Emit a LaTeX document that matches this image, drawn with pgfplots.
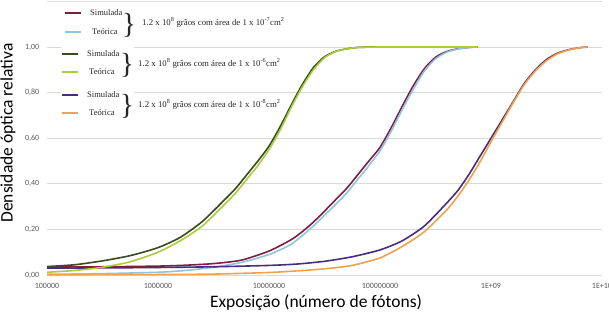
\documentclass[border=0pt]{standalone}
\usepackage{pgfplots}
\pgfplotsset{compat=1.18}
\usepackage{fontspec}
\setmainfont{Carlito}
\newfontfamily\tnr{Liberation Serif}
\definecolor{cSimA}{HTML}{7E1F3F}
\definecolor{cTeoA}{HTML}{8EC5E0}
\definecolor{cSimB}{HTML}{3A4A22}
\definecolor{cTeoB}{HTML}{A8CF38}
\definecolor{cSimC}{HTML}{4A2C7E}
\definecolor{cTeoC}{HTML}{F2A24A}
\definecolor{tickgray}{HTML}{595959}
\definecolor{gridgray}{HTML}{D9D9D9}
\newcommand\pc[2]{({#1-47},{275-#2})}
\begin{document}
\begin{tikzpicture}[x=1pt,y=1pt]
\begin{axis}[name=ax, at={(0,0)}, anchor=south west,
  scale only axis, width=555pt, height=273.6pt,
  xmode=log, xmin=1e5, xmax=1e10, ymin=0, ymax=1.2,
  xtick={1e5,1e6,1e7,1e8,1e9,1e10},
  xticklabels={100000,1000000,10000000,100000000,1E+09,1E+10},
  xminorticks=false,
  ytick={0,0.2,0.4,0.6,0.8,1.0,1.2},
  yticklabels={{0,00},{0,20},{0,40},{0,60},{0,80},{1,00},{}},
  ymajorgrids, grid style={gridgray, line width=0.8pt},
  major tick length=0pt,
  axis line style={draw=none},
  tick label style={font=\fontsize{8}{8}\selectfont, text=tickgray},
  yticklabel style={xshift=-4.3pt},
  xticklabel style={yshift=-5pt},
  every axis plot/.append style={line width=1.6pt, line join=round, smooth, tension=0.4},
  clip=false]
\addplot[cSimA] coordinates {(1e5,0.035)(3.162e5,0.036)(1e6,0.039)(1.778e6,0.043)(3.162e6,0.05)(5.623e6,0.065)(1e7,0.105)(1.585e7,0.155)(1.995e7,0.19)(2.512e7,0.232)(3.162e7,0.28)(3.981e7,0.33)(5.012e7,0.38)(6.310e7,0.44)(7.943e7,0.50)(1e8,0.56)(1.259e8,0.645)(1.585e8,0.74)(1.995e8,0.83)(2.512e8,0.905)(3.162e8,0.955)(3.981e8,0.98)(5.012e8,0.992)(6.310e8,0.998)(7.413e8,1.0)};
\addplot[cTeoA] coordinates {(1e5,0.003)(3.162e5,0.006)(1e6,0.012)(1.778e6,0.02)(3.162e6,0.034)(5.623e6,0.055)(1e7,0.09)(1.585e7,0.135)(2.512e7,0.215)(3.981e7,0.31)(5.012e7,0.36)(6.310e7,0.42)(7.943e7,0.48)(1e8,0.545)(1.259e8,0.63)(1.585e8,0.725)(1.995e8,0.815)(2.512e8,0.895)(3.162e8,0.948)(3.981e8,0.977)(5.012e8,0.991)(6.310e8,0.998)(7.413e8,1.0)};
\addplot[cSimC] coordinates {(1e5,0.03)(3.162e5,0.031)(1e6,0.033)(3.162e6,0.036)(1e7,0.042)(1.778e7,0.048)(3.162e7,0.06)(5.623e7,0.08)(1e8,0.11)(1.585e8,0.15)(2.512e8,0.215)(3.981e8,0.315)(5.012e8,0.37)(6.310e8,0.44)(7.943e8,0.52)(1e9,0.60)(1.259e9,0.68)(1.585e9,0.76)(1.995e9,0.84)(2.512e9,0.9)(3.162e9,0.945)(3.981e9,0.973)(5.012e9,0.988)(6.310e9,0.997)(7.413e9,1.0)};
\addplot[cTeoC] coordinates {(1e5,0.001)(1e6,0.002)(3.162e6,0.004)(1e7,0.011)(1.778e7,0.018)(3.162e7,0.027)(5.623e7,0.042)(1e8,0.075)(1.585e8,0.125)(2.512e8,0.19)(3.981e8,0.285)(5.012e8,0.345)(6.310e8,0.415)(7.943e8,0.495)(1e9,0.585)(1.259e9,0.67)(1.585e9,0.755)(1.995e9,0.835)(2.512e9,0.895)(3.162e9,0.94)(3.981e9,0.97)(5.012e9,0.987)(6.310e9,0.997)(7.413e9,1.0)};
\addplot[cSimB] coordinates {(1e5,0.037)(1.778e5,0.045)(3.162e5,0.062)(5.623e5,0.085)(1e6,0.12)(1.585e6,0.165)(2.512e6,0.235)(3.981e6,0.33)(5.012e6,0.38)(6.310e6,0.44)(7.943e6,0.50)(1e7,0.565)(1.259e7,0.65)(1.585e7,0.745)(1.995e7,0.835)(2.512e7,0.91)(3.162e7,0.957)(3.981e7,0.981)(5.012e7,0.992)(6.310e7,0.998)(1e8,1.0)(3.162e8,1.0)(7.586e8,1.0)};
\addplot[cTeoB] coordinates {(1e5,0.012)(1.778e5,0.02)(3.162e5,0.034)(5.623e5,0.058)(1e6,0.10)(1.585e6,0.15)(2.512e6,0.215)(3.981e6,0.31)(5.012e6,0.36)(6.310e6,0.42)(7.943e6,0.48)(1e7,0.55)(1.259e7,0.635)(1.585e7,0.735)(1.995e7,0.825)(2.512e7,0.9)(3.162e7,0.953)(3.981e7,0.98)(5.012e7,0.992)(6.310e7,0.998)(1e8,1.0)(3.162e8,1.0)(7.586e8,1.0)};
\end{axis}
% legend
\fill[white] \pc{61}{5} rectangle \pc{134}{122};
\begin{scope}[every node/.style={font=\tnr\fontsize{8.5}{9}\selectfont, text=black!85, inner sep=0pt}]
\draw[cSimA, line width=1.6pt] \pc{65}{13} -- \pc{81}{13};
\draw[cTeoA, line width=1.6pt] \pc{65}{32} -- \pc{81}{32};
\node[anchor=west] at \pc{90}{13} {Simulada};
\node[anchor=west] at \pc{92}{32} {Teórica};
\node[font=\tnr\fontsize{29}{29}\selectfont] at \pc{129}{25} {\}};
\node[anchor=west, font=\tnr\fontsize{8.8}{9}\selectfont] at \pc{142}{22} {1.2 x 10\textsuperscript{8} grãos com área de 1 x 10\textsuperscript{-7}cm\textsuperscript{2}};
\draw[cSimB, line width=1.6pt] \pc{62}{54} -- \pc{78}{54};
\draw[cTeoB, line width=1.6pt] \pc{62}{72} -- \pc{78}{72};
\node[anchor=west] at \pc{87}{54} {Simulada};
\node[anchor=west] at \pc{89}{72} {Teórica};
\node[font=\tnr\fontsize{29}{29}\selectfont] at \pc{127}{65} {\}};
\node[anchor=west, font=\tnr\fontsize{8.8}{9}\selectfont] at \pc{138}{63} {1.2 x 10\textsuperscript{8} grãos com área de 1 x 10\textsuperscript{-6}cm\textsuperscript{2}};
\draw[cSimC, line width=1.6pt] \pc{62}{95} -- \pc{78}{95};
\draw[cTeoC, line width=1.6pt] \pc{62}{113} -- \pc{78}{113};
\node[anchor=west] at \pc{87}{95} {Simulada};
\node[anchor=west] at \pc{89}{113} {Teórica};
\node[font=\tnr\fontsize{29}{29}\selectfont] at \pc{127}{106} {\}};
\node[anchor=west, font=\tnr\fontsize{8.8}{9}\selectfont] at \pc{138}{104} {1.2 x 10\textsuperscript{8} grãos com área de 1 x 10\textsuperscript{-8}cm\textsuperscript{2}};
\end{scope}
\node[rotate=90, font=\fontsize{17.5}{20}\selectfont] at \pc{8}{133} {Densidade óptica relativa};
\node[font=\fontsize{17.5}{20}\selectfont] at \pc{316}{303} {Exposição (número de fótons)};
\pgfresetboundingbox
\path[use as bounding box] \pc{0}{0} rectangle \pc{609}{321};
\end{tikzpicture}
\end{document}
